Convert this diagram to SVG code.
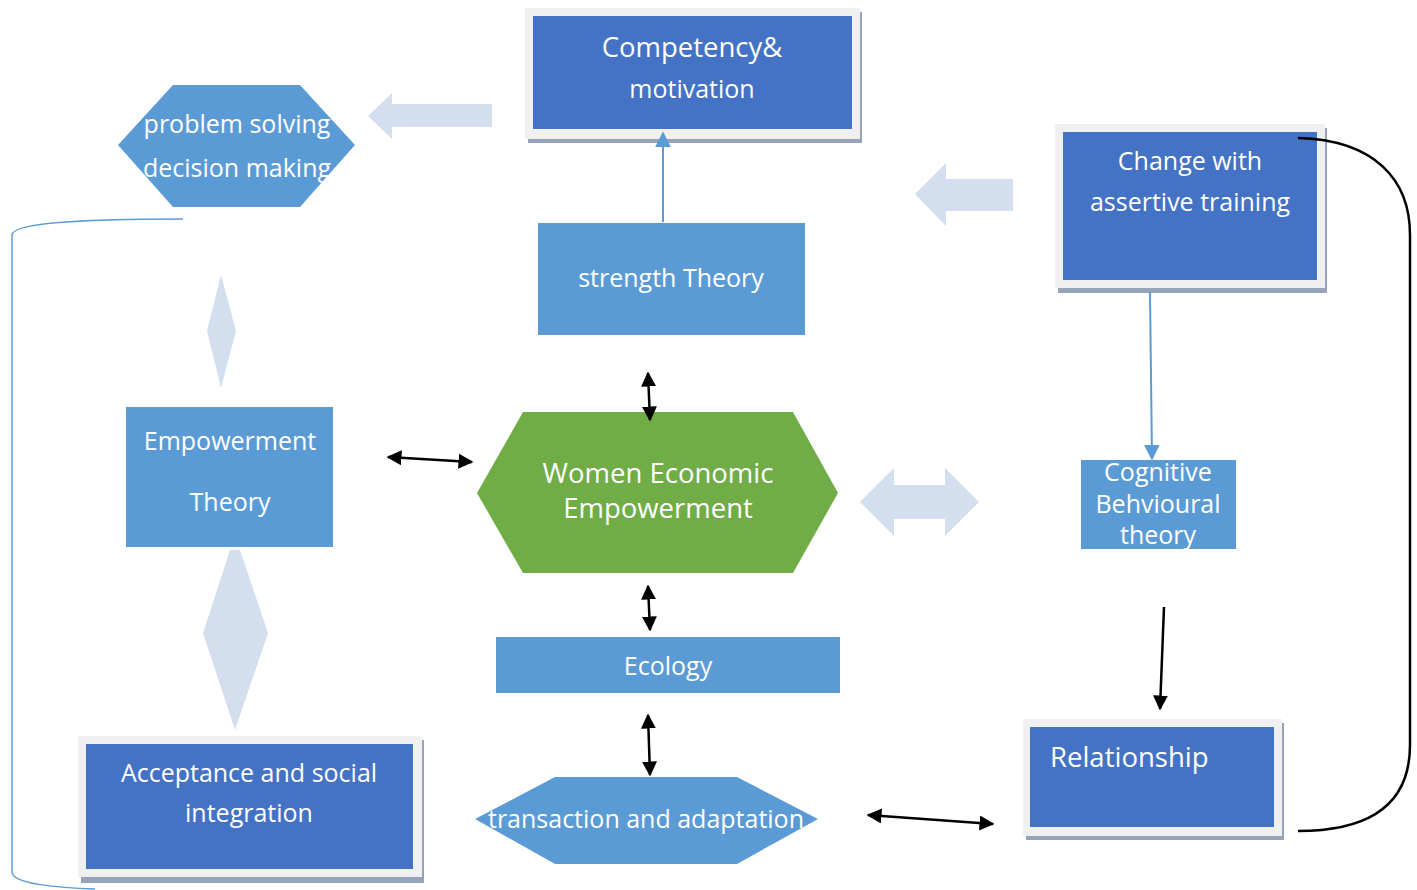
<svg xmlns="http://www.w3.org/2000/svg" width="1417" height="890" viewBox="0 0 1417 890">
<style>
text{font-family:"Open Sans","Noto Sans","Liberation Sans",sans-serif;fill:#ffffff;text-anchor:middle;}
.t25{font-size:25px;}
.t27{font-size:27.5px;}
.dark{fill:#4472C4;}
.light{fill:#5B9BD5;}
.frame{fill:#F0F0F0;}
.shadow{fill:#97A3B9;}
.fat{fill:#D3DEEF;}
.blk{stroke:#000;stroke-width:2.5;fill:none;}
</style>
<defs>
<marker id="ah" viewBox="0 0 10 10" refX="9" refY="5" markerWidth="6" markerHeight="6" orient="auto-start-reverse" markerUnits="strokeWidth">
<path d="M0,0 L10,5 L0,10 Z" fill="#000"/>
</marker>
<marker id="bh" viewBox="0 0 10 10" refX="9" refY="5" markerWidth="8" markerHeight="8" orient="auto" markerUnits="strokeWidth">
<path d="M0,0 L10,5 L0,10 Z" fill="#5B9BD5"/>
</marker>
</defs>
<rect width="1417" height="890" fill="#ffffff"/>

<g id="competency">
<rect class="shadow" x="528" y="12" width="334" height="131"/>
<rect class="frame" x="525" y="8" width="335" height="131"/>
<rect class="dark" x="533" y="16" width="319" height="113"/>
<text class="t27" x="692" y="57">Competency&amp;</text>
<text class="t25" x="692" y="98">motivation</text>
</g>

<g id="problem-solving">
<polygon class="light" points="118,145 173,85 300,85 355,145 300,207 173,207"/>
<text class="t25" x="237" y="133">problem solving</text>
<text class="t25" x="237" y="177">decision making</text>
</g>

<g id="change">
<rect class="shadow" x="1058" y="128" width="269" height="165"/>
<rect class="frame" x="1055" y="124" width="270" height="164"/>
<rect class="dark" x="1063" y="132" width="254" height="148"/>
<text class="t25" x="1190" y="170">Change with</text>
<text class="t25" x="1190" y="211">assertive training</text>
</g>

<g id="strength">
<rect class="light" x="538" y="223" width="267" height="112"/>
<text class="t25" x="671" y="287">strength Theory</text>
</g>

<g id="empowerment">
<rect class="light" x="126" y="407" width="207" height="140"/>
<text class="t25" x="230" y="450">Empowerment</text>
<text class="t25" x="230" y="511">Theory</text>
</g>

<g id="wee">
<polygon fill="#70AD47" points="477,493 523,412 793,412 838,493 793,573 523,573"/>
<text class="t27" x="658" y="483">Women Economic</text>
<text class="t27" x="658" y="518">Empowerment</text>
</g>

<g id="cognitive">
<rect class="light" x="1081" y="460" width="155" height="89"/>
<text class="t25" x="1158" y="481">Cognitive</text>
<text class="t25" x="1158" y="513">Behvioural</text>
<text class="t25" x="1158" y="544">theory</text>
</g>

<g id="ecology">
<rect class="light" x="496" y="637" width="344" height="56"/>
<text class="t25" x="668" y="675">Ecology</text>
</g>

<g id="transaction">
<polygon class="light" points="475,819 555,777 737,777 818,819 737,864 555,864"/>
<text class="t25" x="646" y="828">transaction and adaptation</text>
</g>

<g id="relationship">
<rect class="shadow" x="1026" y="723" width="258" height="117"/>
<rect class="frame" x="1023" y="719" width="259" height="117"/>
<rect class="dark" x="1030" y="727" width="244" height="100"/>
<text class="t27" x="1050" y="767" style="text-anchor:start">Relationship</text>
</g>

<g id="acceptance">
<rect class="shadow" x="81" y="740" width="343" height="143"/>
<rect class="frame" x="78" y="736" width="344" height="141"/>
<rect class="dark" x="86" y="744" width="327" height="125"/>
<text class="t25" x="249" y="782">Acceptance and social</text>
<text class="t25" x="249" y="822">integration</text>
</g>

<g id="connectors">
<path d="M183,219 C90,219 12,222 12,235 L12,872 C12,884 60,888 95,889" stroke="#5B9BD5" stroke-width="1.5" fill="none"/>
<path d="M1298,138 C1375,140 1410,180 1410,235 L1410,745 C1410,800 1375,831 1298,831" class="blk" stroke-width="2"/>
<line x1="663" y1="222" x2="663" y2="133" stroke="#5B9BD5" stroke-width="2" marker-end="url(#bh)"/>
<line x1="1150" y1="292" x2="1152" y2="459" stroke="#5B9BD5" stroke-width="2" marker-end="url(#bh)"/>
<line x1="1164" y1="607" x2="1160" y2="709" class="blk" marker-end="url(#ah)"/>
<line x1="388" y1="457" x2="472" y2="462" class="blk" marker-start="url(#ah)" marker-end="url(#ah)"/>
<line x1="648" y1="373" x2="650" y2="420" class="blk" marker-start="url(#ah)" marker-end="url(#ah)"/>
<line x1="648" y1="586" x2="650" y2="630" class="blk" marker-start="url(#ah)" marker-end="url(#ah)"/>
<line x1="648" y1="715" x2="650" y2="775" class="blk" marker-start="url(#ah)" marker-end="url(#ah)"/>
<line x1="868" y1="815" x2="993" y2="824" class="blk" marker-start="url(#ah)" marker-end="url(#ah)"/>
<polygon class="fat" points="368,116 392,93 392,104 492,104 492,127 392,127 392,139"/>
<polygon class="fat" points="915,194 946,163 946,179 1013,179 1013,211 946,211 946,226"/>
<polygon class="fat" points="860,502 894,468 894,485 945,485 945,468 979,502 945,536 945,519 894,519 894,536"/>
<polygon class="fat" points="221,275 236,331 221,388 207,331"/>
<polygon class="fat" points="230,550 240,550 268,633 235,730 203,633"/>
</g>
</svg>
